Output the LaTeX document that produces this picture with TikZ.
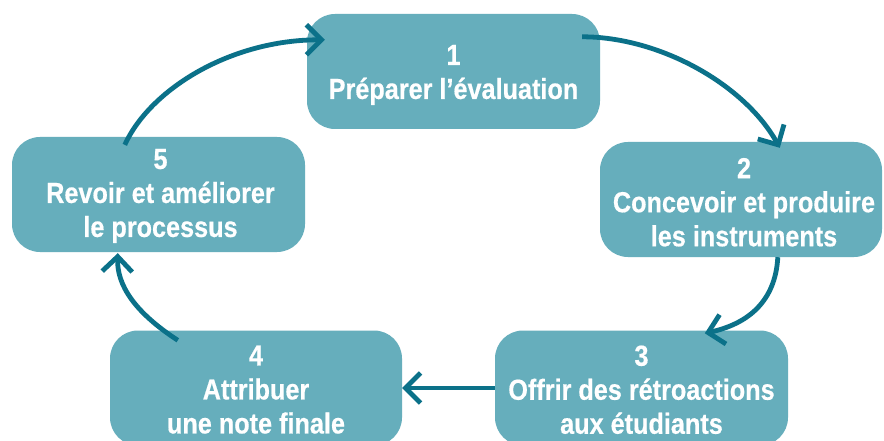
\documentclass[tikz,border=0pt]{standalone}
\usepackage{fontspec}
\setmainfont[FakeStretch=0.87, BoldFeatures={FakeBold=0.5}]{Liberation Sans}
\usetikzlibrary{arrows.meta,calc}
\definecolor{boxfill}{HTML}{66AEBC}
\definecolor{arrowcol}{HTML}{0B7189}
\begin{document}
\begin{tikzpicture}[x=1pt,y=-1pt,
  stepbox/.style={fill=boxfill, rounded corners=28pt, inner sep=0pt, minimum height=115pt},
  steptext/.style={text=white, font=\fontsize{29}{34}\selectfont\bfseries,
    align=center, inner sep=0pt, anchor=north},
  flow/.style={draw=arrowcol, line width=4.8pt,
    -{Straight Barb[length=15pt,width=30pt,line width=4.8pt]}}
]
\useasboundingbox (0,0) rectangle (884,441);
\clip (0,0) rectangle (884,441);
\fill[white] (0,0) rectangle (884,441);

\node[stepbox, minimum width=293pt] (b1) at (453.5,71.5) {};
\node[stepbox, minimum width=282pt] (b2) at (741,199.5) {};
\node[stepbox, minimum width=293pt] (b3) at (641.5,388) {};
\node[stepbox, minimum width=292pt] (b4) at (256,388) {};
\node[stepbox, minimum width=293pt] (b5) at (158.5,194.5) {};

\node[steptext] (t1) at ($(b1.north)+(0,31)$) {1\\Préparer l’évaluation};
\node[steptext] (t2) at ($(b2.north)+(3,16)$) {2\\Concevoir et produire\\les instruments};
\node[steptext] (t3) at ($(b3.north)+(0,15)$) {3\\Offrir des rétroactions\\aux étudiants};
\node[steptext] (t4) at ($(b4.north)+(0,15)$) {4\\Attribuer\\une note finale};
\node[steptext] (t5) at ($(b5.north)+(2,12)$) {5\\Revoir et améliorer\\le processus};

\coordinate (a1s) at ($(b5.north west)+(113,8)$);
\coordinate (a1e) at ($(b1.north west)+(18,26)$);
\coordinate (a2s) at ($(b1.north east)+(-18,23)$);
\coordinate (a2e) at ($(b2.north west)+(180,6)$);
\coordinate (a3s) at ($(b2.south west)+(178,0)$);
\coordinate (a3e) at ($(b3.north west)+(210,3)$);
\coordinate (a5s) at ($(b4.north west)+(68,10)$);
\coordinate (a5e) at ($(b5.south west)+(106,1)$);

\draw[flow] (a1s) .. controls +(25,-55) and +(-95,0) .. (a1e);
\draw[flow] (a2s) .. controls +(78,0) and +(-35,-63) .. (a2e);
\draw[flow] (a3s) .. controls +(-2,38) and +(50,-11) .. (a3e);
\draw[flow] (b3.west) -- (b4.east);
\draw[flow] (a5s) .. controls +(-43,-28) and +(-1,32) .. (a5e);
\end{tikzpicture}
\end{document}
